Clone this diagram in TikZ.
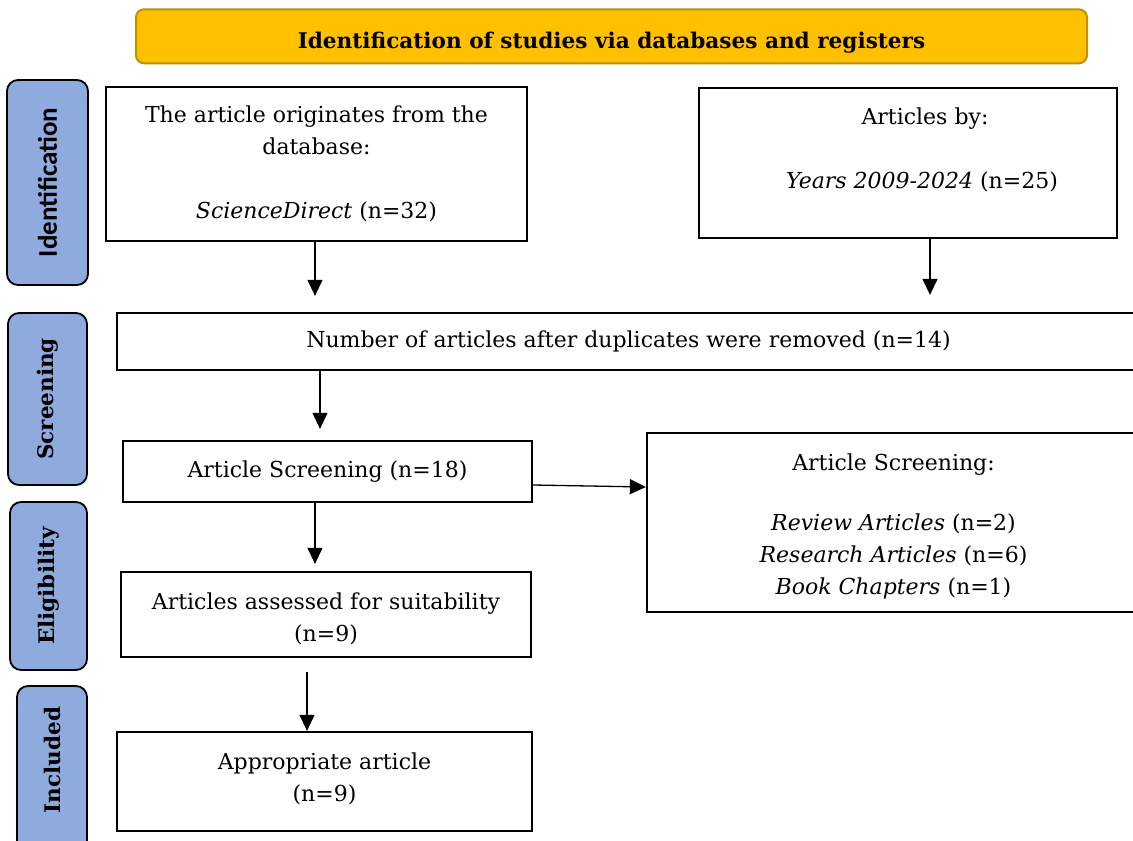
\documentclass[tikz,border=0pt]{standalone}
\usepackage{fontspec}
\setmainfont{DejaVu Serif}
\newfontfamily\stagesans{Carlito}
\usetikzlibrary{arrows.meta,calc}
\definecolor{bannergold}{RGB}{255,192,  0}
\definecolor{bannerrim} {RGB}{191,144,  0}
\definecolor{stageblue} {RGB}{143,170,220}
\tikzset{
  %% Gold heading bar across the top
  banner/.style={
    draw=bannerrim, fill=bannergold, line width=2pt,
    rounded corners=8pt, inner sep=0pt,
    text height=24pt, text depth=0.5pt,
    font=\fontsize{21.6}{24}\selectfont\bfseries
  },
  %% Blue stage tabs down the left side
  stage/.style={
    draw=black, fill=stageblue, line width=1.8pt,
    rounded corners=11pt, rotate=90, inner sep=0pt,
    font=\fontsize{21.5}{24}\selectfont\bfseries
  },
  %% Plain record boxes
  record/.style={
    draw=black, line width=2.3pt, inner sep=0pt, align=center,
    font=\fontsize{22}{32}\selectfont
  },
  flow/.style={
    draw=black, line width=1.3pt,
    -{Triangle[length=16pt,width=15pt]}
  },
}

\begin{document}
\begin{tikzpicture}[x=1pt, y=-1pt]

  \useasboundingbox (0,0) rectangle (1133,841);
  \clip (0,0) rectangle (1133,841);

  %% ── Heading ──────────────────────────────────────────────────────────
  \node[banner, minimum width=951pt, minimum height=54pt] (head)
        at (611.5,36.3) {Identification of studies via databases and registers};

  %% ── Stage tabs ───────────────────────────────────────────────────────
  \node[stage, minimum width=205pt, minimum height=81pt,
        font=\fontsize{27}{30}\selectfont\stagesans\bfseries]
        (tabid) at (47.5,182.5) {Identification};
  \node[stage, minimum width=172pt, minimum height=79pt]
        (tabscr) at (47.5,399) {Screening};
  \node[stage, minimum width=168pt, minimum height=77pt]
        (tabelig) at (48.5,586) {Eligibility};
  \node[stage, minimum width=174pt, minimum height=70pt]
        (tabincl) at (52,773) {\hspace*{26pt}Included};

  %% ── Records ──────────────────────────────────────────────────────────
  \node[record, minimum width=421pt, minimum height=154pt] (src)
        at (316.5,164)
        {The article originates from the\\ database:\\[32pt]
         \textit{ScienceDirect} (n=32)};
  \node[record, minimum width=418pt, minimum height=150pt] (yrs)
        at (908,163)
        {\hspace*{34pt}Articles by:\\[32pt]
         \hspace*{28pt}\textit{Years 2009-2024} (n=25)\\[-3pt]\mbox{}};
  \node[record, minimum width=1023pt, minimum height=57pt] (dedup)
        at (628.5,341.5)
        {Number of articles after duplicates were removed (n=14)};
  \node[record, minimum width=409pt, minimum height=61pt] (scr)
        at (327.5,471.5) {Article Screening (n=18)};
  \node[record, minimum width=493pt, minimum height=179pt] (excl)
        at (893.5,522.5)
        {\mbox{}\\[-7pt]Article Screening:\\[28pt]
         \textit{Review Articles} (n=2)\\
         \textit{Research Articles} (n=6)\\
         \textit{Book Chapters} (n=1)};
  \node[record, minimum width=410pt, minimum height=85pt] (elig)
        at (326,614.5)
        {\mbox{}\\[-7pt]Articles assessed for suitability\\ (n=9)};
  \node[record, minimum width=415pt, minimum height=99pt] (incl)
        at (324.5,781.5) {Appropriate article\\ (n=9)\\[-24pt]\mbox{}};

  %% ── Connectors ───────────────────────────────────────────────────────
  \draw[flow, shorten >=16pt]
        ([xshift=-1.5pt]src.south) -- ([xshift=-1.5pt]src.south |- dedup.north);
  \draw[flow, shorten >=17pt]
        ([xshift=22pt]yrs.south) -- ([xshift=22pt]yrs.south |- dedup.north);
  \draw[flow, shorten >=11pt]
        ([xshift=-7.5pt]scr.north |- dedup.south) -- ([xshift=-7.5pt]scr.north);
  \draw[flow, shorten >=7pt]
        ([xshift=-12.5pt]scr.south) -- ([xshift=-12.5pt]scr.south |- elig.north);
  \draw[flow, shorten <=14pt]
        ([xshift=-17.5pt]incl.north |- elig.south) -- ([xshift=-17.5pt]incl.north);
  \draw[flow] ([yshift=-13.5pt]scr.east) -- ([yshift=35.5pt]excl.west);

\end{tikzpicture}
\end{document}
